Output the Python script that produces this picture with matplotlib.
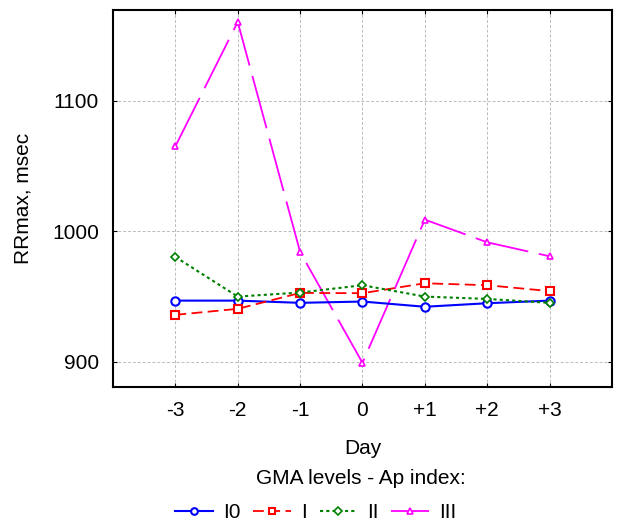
import matplotlib
matplotlib.use("Agg")
import matplotlib.pyplot as plt

plt.rcParams['font.family'] = ['Liberation Sans', 'DejaVu Sans']

days = [-3, -2, -1, 0, 1, 2, 3]
day_labels = ["-3", "-2", "-1", "0", "+1", "+2", "+3"]
level_I0 = [946.7, 946.7, 945.0, 946.0, 942.0, 944.7, 946.7]
level_I = [935.8, 940.4, 952.6, 952.4, 960.0, 958.5, 954.0]
level_II = [980.2, 949.8, 952.9, 958.5, 949.8, 948.0, 945.0]
level_III = [1065.0, 1160.3, 984.0, 899.0, 1008.8, 991.4, 980.7]
series_labels = ["I0", "I", "II", "III"]

fig = plt.figure(figsize=(6.17, 5.26), dpi=100)
ax = fig.add_axes([0.1831, 0.2643, 0.8088, 0.7167])

ax.plot(days, level_I0, color='#0000ff', lw=1.5, marker='o', ms=6,
        mfc='white', mec='#0000ff', mew=1.5, label=series_labels[0], zorder=3)
ax.plot(days, level_I, color='#ff0000', lw=1.3, ls=(0, (6, 3)), marker='s', ms=6,
        mfc='white', mec='#ff0000', mew=1.5, label=series_labels[1], zorder=4)
ax.plot(days, level_II, color='#008000', lw=1.5, ls=(0, (1.5, 1.5)), marker='D', ms=4.5,
        mfc='white', mec='#008000', mew=1.2, label=series_labels[2], zorder=5)
ax.plot(days, level_III, color='#ff00ff', lw=1.3, ls=(0, (30, 6)), marker='^', ms=5,
        mfc='white', mec='#ff00ff', mew=1.2, label=series_labels[3], zorder=2)

ax.set_xlim(-4, 4)
ax.set_ylim(880.5, 1169.5)
ax.set_xticks(days)
ax.set_xticklabels(day_labels)
ax.set_yticks([900, 1000, 1100])
ax.tick_params(direction='in', top=True, right=True, labelsize=15, length=3, pad=10)
ax.grid(True, color='#bbbbbb', ls=(0, (3, 2)), lw=0.7)
for s in ax.spines.values():
    s.set_linewidth(1.5)

ax.set_xlabel("Day", fontsize=15, labelpad=14)
ax.set_ylabel("RRmax, msec", fontsize=15, labelpad=14)

fig.text(361 / 617, 1 - 478 / 526, "GMA levels - Ap index:", fontsize=15,
         ha='center', va='center')
leg = fig.legend(loc='center', bbox_to_anchor=(316 / 617, 1 - 513 / 526), ncol=4,
                 frameon=False, fontsize=15, handlelength=1.8, columnspacing=0.6,
                 handletextpad=0.5, markerscale=0.8, borderpad=0)

fig.savefig("out.png", dpi=100)
